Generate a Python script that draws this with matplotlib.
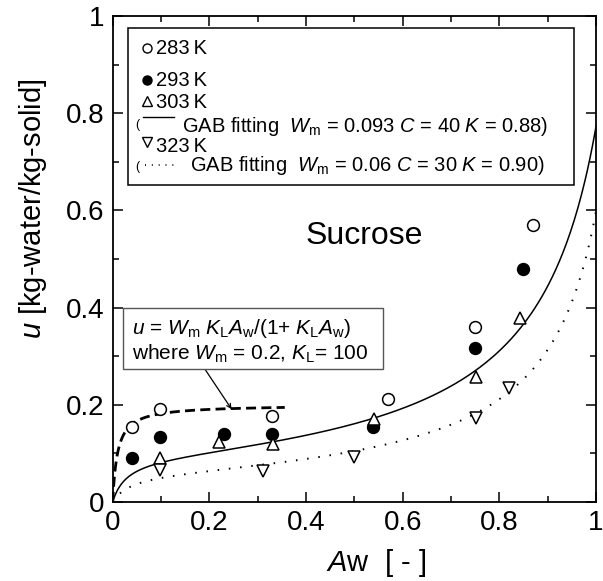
import numpy as np
import matplotlib
matplotlib.use("Agg")
import matplotlib.pyplot as plt
from matplotlib.patches import Rectangle
from matplotlib.ticker import MultipleLocator

plt.rcParams['font.family'] = ['Liberation Sans', 'DejaVu Sans']
plt.rcParams['mathtext.fontset'] = 'custom'
plt.rcParams['mathtext.rm'] = 'Liberation Sans'
plt.rcParams['mathtext.it'] = 'Liberation Sans:italic'

# measured sorption points, u [kg-water/kg-solid] vs Aw
aw_283 = [0.040, 0.098, 0.330, 0.569, 0.749, 0.869]
u_283 = [0.155, 0.191, 0.177, 0.211, 0.360, 0.569]

aw_293 = [0.039, 0.098, 0.230, 0.330, 0.538, 0.749, 0.848]
u_293 = [0.090, 0.133, 0.140, 0.140, 0.155, 0.317, 0.480]

aw_303 = [0.098, 0.220, 0.332, 0.540, 0.751, 0.842]
u_303 = [0.091, 0.123, 0.120, 0.171, 0.258, 0.379]

aw_323 = [0.098, 0.311, 0.500, 0.751, 0.821]
u_323 = [0.065, 0.064, 0.092, 0.172, 0.235]

# model parameters
gab1 = dict(wm=0.093, c=40, k=0.88)
gab2 = dict(wm=0.06, c=30, k=0.90)
lang_wm, lang_kl = 0.2, 100


def gab(a, wm, c, k):
    return wm * c * k * a / ((1 - k * a) * (1 - k * a + c * k * a))


def langmuir(a, wm, kl):
    return wm * kl * a / (1 + kl * a)


fig = plt.figure(figsize=(6.03, 5.81), dpi=100)
ax = fig.add_axes([0.1869, 0.136, 0.8015, 0.8365])

a = np.linspace(0, 1, 400)
ax.plot(a, gab(a, **gab1), color='k', lw=1.1)
ax.plot(a, gab(a, **gab2), color='k', lw=1.4, ls=(0, (0.8, 5)))
a_l = np.linspace(0, 0.356, 200)
ax.plot(a_l, langmuir(a_l, lang_wm, lang_kl), color='k', lw=2.0, ls=(0, (3.6, 1.9)))

mk = dict(ms=8.5, mew=1.1, ls='none', clip_on=False, zorder=3)
ax.plot(aw_283, u_283, 'o', mfc='white', mec='k', **mk)
ax.plot(aw_293, u_293, 'o', mfc='k', mec='k', **mk)
ax.plot(aw_303, u_303, '^', mfc='white', mec='k', **mk)
ax.plot(aw_323, u_323, 'v', mfc='white', mec='k', **mk)

ax.set_xlim(0, 1)
ax.set_ylim(0, 1)
ax.xaxis.set_major_locator(MultipleLocator(0.2))
ax.yaxis.set_major_locator(MultipleLocator(0.2))
ax.xaxis.set_minor_locator(MultipleLocator(0.1))
ax.yaxis.set_minor_locator(MultipleLocator(0.1))
ax.xaxis.set_major_formatter(lambda v, p: f"{v:g}")
ax.yaxis.set_major_formatter(lambda v, p: f"{v:g}")
ax.tick_params(which='both', direction='in', top=True, right=True, width=1.1,
               labelsize=20)
ax.tick_params(which='major', length=7, pad=6)
ax.tick_params(which='minor', length=4.5)
for s in ax.spines.values():
    s.set_linewidth(1.3)

ax.set_xlabel("$A$w  [ - ]", fontsize=21, va='baseline')
ax.xaxis.set_label_coords(0.545, -0.142)
ax.set_ylabel("$u$ [kg-water/kg-solid]", fontsize=21, va='center')
ax.yaxis.set_label_coords(-0.164, 0.603)

ax.text(0.52, 0.547, "Sucrose", fontsize=23, ha='center', va='center')

# legend box built by hand
T = ax.transAxes
ax.add_patch(Rectangle((0.031, 0.652), 0.924, 0.323, transform=T,
                       fill=True, fc='white', ec='k', lw=1.1, zorder=4))
lt = dict(fontsize=14.5, va='center', ha='left', transform=T, zorder=5)
lm = dict(ms=6.5, mew=1.0, mec='k', transform=T, zorder=5, clip_on=False)
ax.plot([0.070], [0.934], 'o', mfc='white', **lm)
ax.text(0.089, 0.934, "283\u2009K", **lt)
ax.plot([0.070], [0.868], 'o', mfc='k', **lm)
ax.text(0.089, 0.868, "293\u2009K", **lt)
ax.plot([0.070], [0.826], '^', mfc='white', **lm)
ax.text(0.089, 0.822, "303\u2009K", **lt)
ax.text(0.046, 0.775, "(", fontsize=9, va='center', ha='left', transform=T, zorder=5)
ax.plot([0.063, 0.127], [0.793, 0.793], color='k', lw=1.0, transform=T, zorder=5)
ax.text(0.143, 0.772,
        r"GAB fitting  $W_{\rm m}$ = 0.093 $C$ = 40 $K$ = 0.88)", **lt)
ax.plot([0.070], [0.740], 'v', mfc='white', **lm)
ax.text(0.089, 0.732, "323\u2009K", **lt)
ax.text(0.046, 0.690, "(", fontsize=9, va='center', ha='left', transform=T, zorder=5)
ax.plot([0.066, 0.127], [0.693, 0.693], color='k', lw=1.2, ls=(0, (0.6, 3.5)),
        transform=T, zorder=5)
ax.text(0.160, 0.692,
        r"GAB fitting  $W_{\rm m}$ = 0.06 $C$ = 30 $K$ = 0.90)", **lt)

# Langmuir note with arrow to the dashed curve
nt = dict(lt, fontsize=15)
ax.add_patch(Rectangle((0.022, 0.273), 0.538, 0.127, transform=T,
                       fc='white', ec='#555555', lw=1.0, zorder=4))
ax.text(0.040, 0.356,
        r"$u$ = $W_{\rm m}$ $K_{\rm L}A_{\rm w}$/(1+ $K_{\rm L}A_{\rm w}$)", **nt)
ax.text(0.040, 0.305,
        r"where $W_{\rm m}$ = 0.2, $K_{\rm L}$= 100", **nt)
ax.annotate("", xy=(0.246, 0.191), xytext=(0.191, 0.273),
            arrowprops=dict(arrowstyle='->,head_length=0.3,head_width=0.15',
                            color='k', lw=0.9, shrinkA=0, shrinkB=0))

fig.savefig("out.png", dpi=100)
